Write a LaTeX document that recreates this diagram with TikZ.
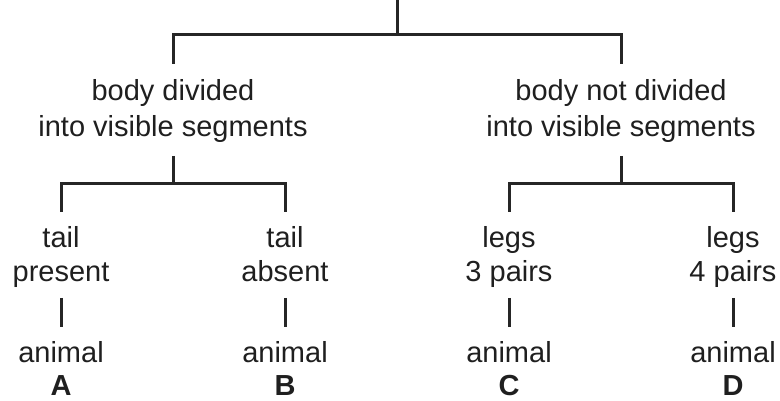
\documentclass[tikz,border=0pt]{standalone}
\usepackage{fontspec}
\setmainfont{Liberation Sans}
\begin{document}
\begin{tikzpicture}[x=1pt,y=1pt,
  lbl/.style={font=\fontsize{29}{35}\selectfont, inner sep=0pt, anchor=base, text=black!88},
  lblb/.style={lbl, font=\fontsize{29}{35}\selectfont\bfseries},
  ln/.style={line width=3pt, color=black!85, line cap=butt}]
\useasboundingbox (0,0) rectangle (780,401);
% coordinates for connector ends
\coordinate (top) at (397,401);
\coordinate (j0) at (397,366);
\coordinate (l1t) at (173,337);
\coordinate (r1t) at (621,337);
\coordinate (l1b) at (173,245);
\coordinate (r1b) at (621,245);
% level 1 texts
\node[lbl] (l1a) at (173,300) {body divided};
\node[lbl] (l1) at (173,264) {into visible segments};
\node[lbl] (r1a) at (621,300) {body not divided};
\node[lbl] (r1) at (621,264) {into visible segments};
% leaves
\foreach \n/\x/\a/\b/\c in {A/61/tail/present/A, B/285/tail/absent/B, C/509/legs/3 pairs/C, D/733/legs/4 pairs/D}{
  \node[lbl] (t\n) at (\x,153) {\a};
  \node[lbl] (p\n) at (\x,119) {\b};
  \node[lbl] (an\n) at (\x,38) {animal};
  \node[lblb] (l\n) at (\x,5) {\c};
  \coordinate (up\n) at (\x,189);
  \coordinate (s\n) at (\x,103);
  \coordinate (e\n) at (\x,74);
  \draw[ln] (s\n) -- (e\n);
}
\draw[ln] (top) -- (j0);
\draw[ln] (l1t) |- (j0) -| (r1t);
\draw[ln] (l1b) -- ++(0,-28) coordinate (jl);
\draw[ln] (upA) |- (jl) -| (upB);
\draw[ln] (r1b) -- ++(0,-28) coordinate (jr);
\draw[ln] (upC) |- (jr) -| (upD);
\end{tikzpicture}
\end{document}
